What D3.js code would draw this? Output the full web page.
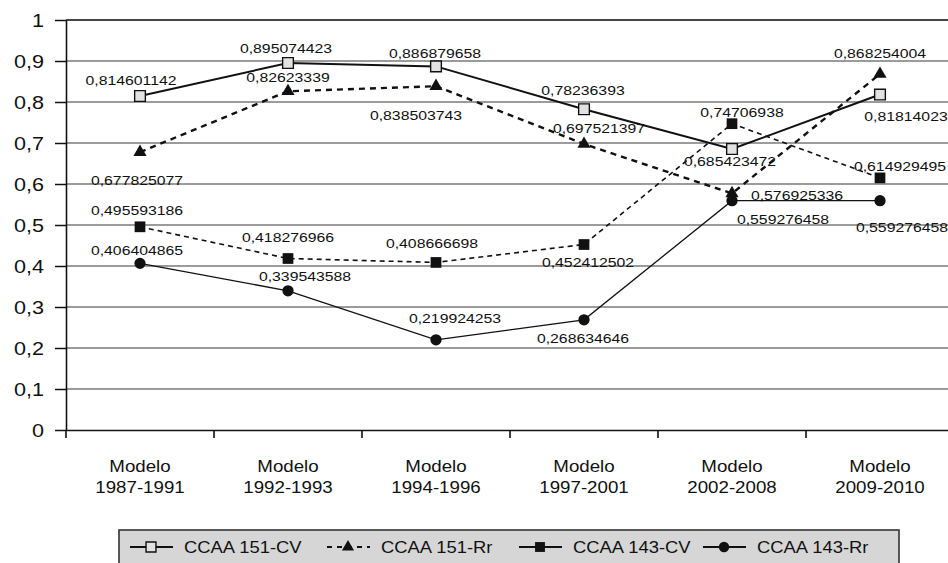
<!DOCTYPE html>
<html>
<head>
<meta charset="utf-8">
<script src="https://cdn.jsdelivr.net/npm/d3@7/dist/d3.min.js"></script>
<style>
  html, body { margin: 0; padding: 0; background: #fff; }
  svg { display: block; }
  text { font-family: "Liberation Sans", Arial, Helvetica, sans-serif; fill: #111; }
</style>
</head>
<body>
<svg id="chart" width="948" height="563"></svg>
<script>
// ---- data ----
const categories = ["Modelo 1987-1991", "Modelo 1992-1993", "Modelo 1994-1996",
                    "Modelo 1997-2001", "Modelo 2002-2008", "Modelo 2009-2010"];
const seriesNames = ["CCAA 151-CV", "CCAA 151-Rr", "CCAA 143-CV", "CCAA 143-Rr"];
const cv151 = [0.814601142, 0.895074423, 0.886879658, 0.78236393, 0.685423472, 0.81814023];
const rr151 = [0.677825077, 0.82623339, 0.838503743, 0.697521397, 0.576925336, 0.868254004];
const cv143 = [0.495593186, 0.418276966, 0.408666698, 0.452412502, 0.74706938, 0.614929495];
const rr143 = [0.406404865, 0.339543588, 0.219924253, 0.268634646, 0.559276458, 0.559276458];
const yTickValues = [0, 0.1, 0.2, 0.3, 0.4, 0.5, 0.6, 0.7, 0.8, 0.9, 1];
const yTickLabels = ["0", "0,1", "0,2", "0,3", "0,4", "0,5", "0,6", "0,7", "0,8", "0,9", "1"];

// ---- layout ----
const svg = d3.select("#chart");
const plot = { left: 66, top: 20, bottom: 430, step: 148 };

const x = d3.scaleBand()
  .domain(categories)
  .range([plot.left, plot.left + plot.step * categories.length])
  .padding(0);
const y = d3.scaleLinear().domain([0, 1]).range([plot.bottom, plot.top]);
const cx = c => x(c) + x.bandwidth() / 2;

// text drawn slightly widened horizontally
function wideText(parent, px, py, str, size, anchor, sx) {
  return parent.append("text")
    .attr("transform", `translate(${px},${py}) scale(${sx},1)`)
    .attr("text-anchor", anchor)
    .style("font-size", size + "px")
    .text(str);
}

// horizontal gridlines
svg.append("g").selectAll("line")
  .data(yTickValues.filter(v => v > 0))
  .join("line")
  .attr("x1", plot.left).attr("x2", 948)
  .attr("y1", d => y(d)).attr("y2", d => y(d))
  .attr("stroke", d => d === 1 ? "#444" : "#7a7a7a")
  .attr("stroke-width", d => d === 1 ? 2 : 1.5);

// y axis
const yAxis = svg.append("g")
  .attr("transform", `translate(${plot.left},0)`)
  .call(d3.axisLeft(y).tickValues(yTickValues)
    .tickFormat((d, i) => yTickLabels[i]).tickSize(11).tickSizeOuter(0));
yAxis.select(".domain").attr("stroke", "#111").attr("stroke-width", 1.6);
yAxis.selectAll(".tick line").attr("stroke", "#111").attr("stroke-width", 1.5);
yAxis.selectAll(".tick text")
  .attr("x", -22 / 1.2).attr("dy", "0.36em")
  .attr("transform", "scale(1.2,1)")
  .style("font-size", "18px")
  .style("font-family", "'Liberation Sans', Arial, sans-serif")
  .attr("fill", "#111");

// x axis: baseline, boundary ticks, two-line labels
const xAxis = svg.append("g")
  .attr("transform", `translate(0,${plot.bottom})`)
  .call(d3.axisBottom(x).tickSize(0).tickSizeOuter(0).tickFormat(""));
xAxis.select(".domain").attr("stroke", "#111").attr("stroke-width", 1.6);
xAxis.selectAll(".tick").remove();
svg.append("g").selectAll("line")
  .data(categories)
  .join("line")
  .attr("x1", d => x(d)).attr("x2", d => x(d))
  .attr("y1", plot.bottom).attr("y2", plot.bottom + 8)
  .attr("stroke", "#111").attr("stroke-width", 1.6);
const xLab = svg.append("g");
categories.forEach(c => {
  const sp = c.indexOf(" ");
  wideText(xLab, cx(c), 472, c.slice(0, sp), 16, "middle", 1.17);
  wideText(xLab, cx(c), 493, c.slice(sp + 1), 16, "middle", 1.17);
});

// ---- series ----
const series = [
  { name: seriesNames[0], values: cv151, width: 2, dash: null, symbol: d3.symbolSquare, size: 115, fill: "#e2e2e2", stroke: "#111" },
  { name: seriesNames[1], values: rr151, width: 2.4, dash: "6,5", symbol: d3.symbolTriangle, size: 75, fill: "#111", stroke: "none" },
  { name: seriesNames[2], values: cv143, width: 1.6, dash: "5,4", symbol: d3.symbolSquare, size: 115, fill: "#111", stroke: "none" },
  { name: seriesNames[3], values: rr143, width: 1.3, dash: null, symbol: d3.symbolCircle, size: 100, fill: "#111", stroke: "none" }
];

// label centre offsets from each point, in px
const labelOffsets = [
  [[-9, -16], [-2, -15], [-1, -13], [-1, -19], [-2, 12], [26, 22]],
  [[-3, 28], [0, -14], [-20, 29], [15, -16], [65, 1.5], [0, -21]],
  [[-3, -17], [0, -21], [-4, -19], [4, 18], [10, -12], [20, -12]],
  [[-3, -13], [17, -15], [19, -22], [-1, 18], [51, 19], [22, 27]]
];

const line = d3.line().x((d, i) => cx(categories[i])).y(d => y(d));
const fmt = v => String(v).replace(".", ",");

series.forEach(s => {
  svg.append("path")
    .datum(s.values)
    .attr("d", line)
    .attr("fill", "none")
    .attr("stroke", "#111")
    .attr("stroke-width", s.width)
    .attr("stroke-dasharray", s.dash);
});

series.forEach(s => {
  svg.append("g").selectAll("path")
    .data(s.values)
    .join("path")
    .attr("transform", (d, i) => `translate(${cx(categories[i])},${y(d)})`)
    .attr("d", d3.symbol(s.symbol, s.size))
    .attr("fill", s.fill)
    .attr("stroke", s.stroke)
    .attr("stroke-width", 1.4);
});

const labels = svg.append("g");
series.forEach((s, k) => {
  s.values.forEach((v, i) => {
    const [dx, dy] = labelOffsets[k][i];
    wideText(labels, cx(categories[i]) + dx, y(v) + dy + 4.8, fmt(v), 13.5, "middle", 1.17);
  });
});

// ---- legend ----
const legend = svg.append("g");
legend.append("rect")
  .attr("x", 119).attr("y", 530).attr("width", 780).attr("height", 40)
  .attr("fill", "#d6d6d6").attr("stroke", "#333").attr("stroke-width", 1.6);
const legendX = [130, 327, 519, 703];
const legendDash = [null, "5,5", null, null];
series.forEach((s, k) => {
  const g = legend.append("g").attr("transform", `translate(${legendX[k]},547)`);
  g.append("line")
    .attr("x1", 0).attr("x2", 43).attr("y1", 0).attr("y2", 0)
    .attr("stroke", "#111").attr("stroke-width", 1.8)
    .attr("stroke-dasharray", legendDash[k]);
  g.append("path")
    .attr("transform", "translate(21,0)")
    .attr("d", d3.symbol(s.symbol, s.size * 0.85))
    .attr("fill", s.fill).attr("stroke", s.stroke).attr("stroke-width", 1.4);
  wideText(g, 54, 6, s.name, 16, "start", 1.15);
});
</script>
</body>
</html>
